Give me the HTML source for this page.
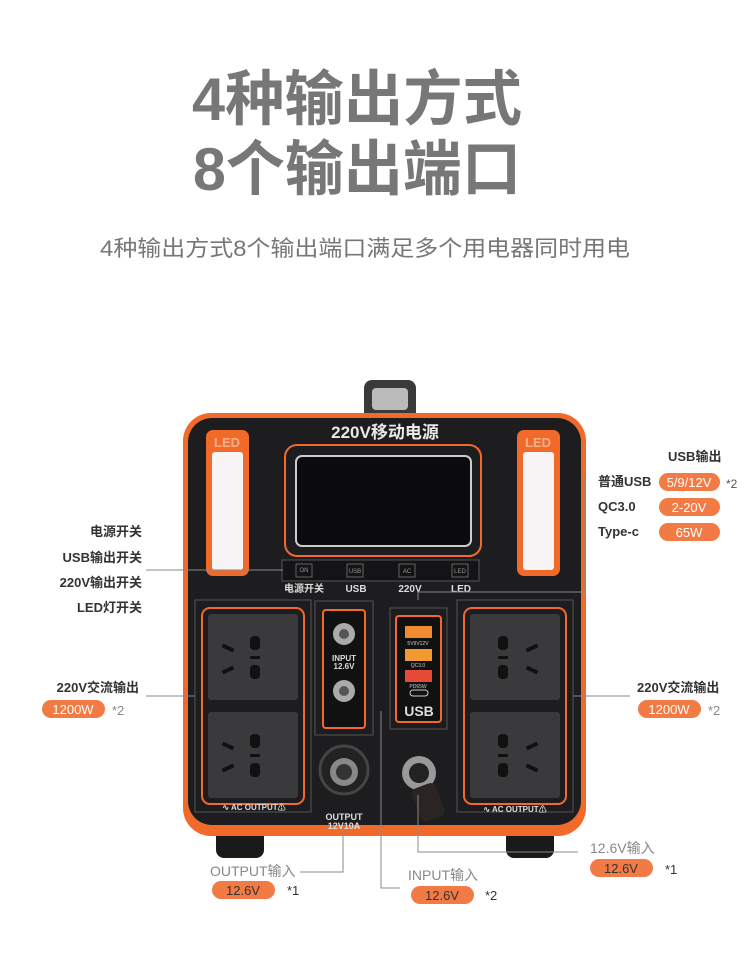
<!DOCTYPE html>
<html><head><meta charset="utf-8"><style>
html,body{margin:0;padding:0;background:#fff;}
svg{display:block;}
text{font-family:"Liberation Sans","Noto Sans CJK SC",sans-serif;}
</style></head><body>
<svg width="750" height="969" viewBox="0 0 750 969" xmlns="http://www.w3.org/2000/svg">
<rect width="750" height="969" fill="#fff"/>
<!-- titles -->
<text x="357" y="120" text-anchor="middle" font-size="60" font-weight="bold" fill="#777" textLength="330" lengthAdjust="spacingAndGlyphs">4种输出方式</text>
<text x="357" y="190" text-anchor="middle" font-size="60" font-weight="bold" fill="#777" textLength="328" lengthAdjust="spacingAndGlyphs">8个输出端口</text>
<text x="365" y="256" text-anchor="middle" font-size="22" fill="#777" textLength="530" lengthAdjust="spacingAndGlyphs">4种输出方式8个输出端口满足多个用电器同时用电</text>

<!-- handle -->
<rect x="364" y="380" width="52" height="40" rx="8" fill="#3a3a3a"/>
<rect x="372" y="388" width="36" height="22" rx="4" fill="#bbb"/>
<!-- feet -->
<rect x="216" y="826" width="48" height="32" rx="8" fill="#1a1a1a"/>
<rect x="506" y="826" width="48" height="32" rx="8" fill="#1a1a1a"/>
<!-- body -->
<rect x="183" y="413" width="403" height="423" rx="28" fill="#f26a2a"/>
<rect x="188" y="418" width="393" height="407" rx="24" fill="#1d1d20"/>
<text x="385" y="438" text-anchor="middle" font-size="17" font-weight="bold" fill="#e8e8e8">220V移动电源</text>
<!-- LED bars -->
<rect x="206" y="430" width="43" height="146" rx="7" fill="#f26a2a"/>
<text x="227" y="447" text-anchor="middle" font-size="13" font-weight="bold" fill="#f5b08a">LED</text>
<rect x="212" y="452" width="31" height="118" rx="3" fill="#f6f4f4"/>
<rect x="517" y="430" width="43" height="146" rx="7" fill="#f26a2a"/>
<text x="538" y="447" text-anchor="middle" font-size="13" font-weight="bold" fill="#f5b08a">LED</text>
<rect x="523" y="452" width="31" height="118" rx="3" fill="#f6f4f4"/>
<!-- display -->
<rect x="285" y="445" width="196" height="111" rx="12" fill="none" stroke="#f26a2a" stroke-width="2"/>
<rect x="296" y="456" width="175" height="90" rx="6" fill="#0b0b0d" stroke="#ccc" stroke-width="2"/>
<!-- switch bar -->
<rect x="282" y="560" width="197" height="21" fill="#141416" stroke="#555" stroke-width="1"/>
<g font-size="6" fill="#999" text-anchor="middle">
<rect x="296" y="564" width="16" height="13" fill="none" stroke="#777" stroke-width="0.8"/><text x="304" y="572">ON</text>
<rect x="347" y="564" width="16" height="13" fill="none" stroke="#777" stroke-width="0.8"/><text x="355" y="573">USB</text>
<rect x="399" y="564" width="16" height="13" fill="none" stroke="#777" stroke-width="0.8"/><text x="407" y="573">AC</text>
<rect x="452" y="564" width="16" height="13" fill="none" stroke="#777" stroke-width="0.8"/><text x="460" y="573">LED</text>
</g>
<g font-size="10" font-weight="bold" fill="#ddd" text-anchor="middle">
<text x="304" y="592">电源开关</text><text x="356" y="592">USB</text><text x="410" y="592">220V</text><text x="461" y="592">LED</text>
</g>
<!-- left outlets -->
<rect x="195" y="600" width="116" height="212" fill="none" stroke="#555" stroke-width="1"/>
<rect x="202" y="608" width="102" height="196" rx="8" fill="none" stroke="#f26a2a" stroke-width="2"/>
<rect x="208" y="614" width="90" height="86" rx="3" fill="#3a3a3c"/>
<rect x="208" y="712" width="90" height="86" rx="3" fill="#3a3a3c"/>
<text x="254" y="810" text-anchor="middle" font-size="8" font-weight="bold" fill="#ddd">∿ AC OUTPUT⚠</text>
<!-- right outlets -->
<rect x="457" y="600" width="116" height="212" fill="none" stroke="#555" stroke-width="1"/>
<rect x="464" y="608" width="102" height="196" rx="8" fill="none" stroke="#f26a2a" stroke-width="2"/>
<rect x="470" y="614" width="90" height="86" rx="3" fill="#3a3a3c"/>
<rect x="470" y="712" width="90" height="86" rx="3" fill="#3a3a3c"/>
<text x="515" y="812" text-anchor="middle" font-size="8" font-weight="bold" fill="#ddd">∿ AC OUTPUT⚠</text>
<!-- socket holes -->
<g fill="#111">
<rect x="250" y="636" width="10" height="14" rx="4"/><rect x="250" y="656" width="10" height="3"/><rect x="250" y="665" width="10" height="14" rx="4"/>
<rect x="222" y="646" width="12" height="4" transform="rotate(25 228 648)"/><rect x="222" y="668" width="12" height="4" transform="rotate(-25 228 670)"/>
<rect x="250" y="734" width="10" height="14" rx="4"/><rect x="250" y="754" width="10" height="3"/><rect x="250" y="763" width="10" height="14" rx="4"/>
<rect x="222" y="744" width="12" height="4" transform="rotate(25 228 746)"/><rect x="222" y="766" width="12" height="4" transform="rotate(-25 228 768)"/>
<rect x="498" y="636" width="10" height="14" rx="4"/><rect x="498" y="656" width="10" height="3"/><rect x="498" y="665" width="10" height="14" rx="4"/>
<rect x="526" y="646" width="12" height="4" transform="rotate(-25 532 648)"/><rect x="526" y="668" width="12" height="4" transform="rotate(25 532 670)"/>
<rect x="498" y="734" width="10" height="14" rx="4"/><rect x="498" y="754" width="10" height="3"/><rect x="498" y="763" width="10" height="14" rx="4"/>
<rect x="526" y="744" width="12" height="4" transform="rotate(-25 532 746)"/><rect x="526" y="766" width="12" height="4" transform="rotate(25 532 768)"/>
</g>
<!-- input panel -->
<rect x="315" y="601" width="58" height="134" fill="none" stroke="#555"/>
<rect x="323" y="610" width="42" height="118" rx="3" fill="#111" stroke="#f26a2a" stroke-width="2"/>
<circle cx="344" cy="634" r="11" fill="#aaa"/><circle cx="344" cy="634" r="5" fill="#555"/>
<circle cx="344" cy="691" r="11" fill="#aaa"/><circle cx="344" cy="691" r="5" fill="#555"/>
<text x="344" y="661" text-anchor="middle" font-size="8" font-weight="bold" fill="#ddd">INPUT</text>
<text x="344" y="669" text-anchor="middle" font-size="8" font-weight="bold" fill="#ddd">12.6V</text>
<!-- usb panel -->
<rect x="390" y="608" width="57" height="121" fill="none" stroke="#555"/>
<rect x="396" y="616" width="45" height="106" rx="3" fill="#111" stroke="#f26a2a" stroke-width="2"/>
<rect x="405" y="626" width="27" height="12" fill="#f28a30"/>
<rect x="405" y="649" width="27" height="12" fill="#f29a30"/>
<rect x="405" y="670" width="27" height="12" fill="#e84a3a"/>
<rect x="410" y="690" width="18" height="6" rx="3" fill="none" stroke="#ccc"/>
<g font-size="5" fill="#ccc" text-anchor="middle"><text x="418" y="645">5V9V12V</text><text x="418" y="667">QC3.0</text><text x="418" y="688">PD65W</text></g>
<text x="419" y="716" text-anchor="middle" font-size="14" font-weight="bold" fill="#ddd">USB</text>
<!-- cig socket -->
<circle cx="344" cy="770" r="24" fill="#222" stroke="#444" stroke-width="3"/>
<circle cx="344" cy="772" r="14" fill="#888"/><circle cx="344" cy="772" r="8" fill="#333"/>
<text x="344" y="820" text-anchor="middle" font-size="9" font-weight="bold" fill="#ddd">OUTPUT</text>
<text x="344" y="829" text-anchor="middle" font-size="9" font-weight="bold" fill="#ddd">12V10A</text>
<!-- aviation -->
<circle cx="419" cy="773" r="17" fill="#999"/><circle cx="419" cy="773" r="10" fill="#222"/>
<rect x="415" y="785" width="25" height="35" rx="6" fill="#2a2522" transform="rotate(-20 427 800)"/>

<!-- leader lines -->
<g stroke="#888" stroke-width="1" fill="none">
<polyline points="146,570 283,570"/>
<polyline points="146,696 195,696"/>
<polyline points="573,696 630,696"/>
<polyline points="584,478 584,592 418,592 418,600"/>
<polyline points="300,872 343,872 343,830"/>
<polyline points="381,711 381,888 400,888"/>
<polyline points="418,795 418,852 578,852"/>
</g>

<!-- left labels -->
<g font-size="13" font-weight="bold" fill="#333" text-anchor="end">
<text x="142" y="536">电源开关</text>
<text x="142" y="562">USB输出开关</text>
<text x="142" y="587">220V输出开关</text>
<text x="142" y="612">LED灯开关</text>
<text x="139" y="692">220V交流输出</text>
</g>
<rect x="42" y="700" width="63" height="18" rx="9" fill="#f27a45"/>
<text x="73" y="714" text-anchor="middle" font-size="13" fill="#fff">1200W</text>
<text x="112" y="715" font-size="13" fill="#888">*2</text>
<!-- right labels -->
<g font-size="13" font-weight="bold" fill="#333">
<text x="668" y="461">USB输出</text>
<text x="598" y="486">普通USB</text>
<text x="598" y="511">QC3.0</text>
<text x="598" y="536">Type-c</text>
<text x="637" y="692">220V交流输出</text>
</g>
<rect x="659" y="473" width="61" height="18" rx="9" fill="#f27a45"/><text x="689" y="487" text-anchor="middle" font-size="13" fill="#fff">5/9/12V</text>
<text x="726" y="488" font-size="12" fill="#555">*2</text>
<rect x="659" y="498" width="61" height="18" rx="9" fill="#f27a45"/><text x="689" y="512" text-anchor="middle" font-size="13" fill="#fff">2-20V</text>
<rect x="659" y="523" width="61" height="18" rx="9" fill="#f27a45"/><text x="689" y="537" text-anchor="middle" font-size="13" fill="#fff">65W</text>
<rect x="638" y="700" width="63" height="18" rx="9" fill="#f27a45"/>
<text x="669" y="714" text-anchor="middle" font-size="13" fill="#fff">1200W</text>
<text x="708" y="715" font-size="13" fill="#888">*2</text>

<!-- bottom labels -->
<text x="210" y="876" font-size="14" fill="#888">OUTPUT输入</text>
<rect x="212" y="881" width="63" height="18" rx="9" fill="#f27a45"/><text x="243" y="895" text-anchor="middle" font-size="13" fill="#333">12.6V</text>
<text x="287" y="895" font-size="13" fill="#333">*1</text>
<text x="408" y="880" font-size="14" fill="#888">INPUT输入</text>
<rect x="411" y="886" width="63" height="18" rx="9" fill="#f27a45"/><text x="442" y="900" text-anchor="middle" font-size="13" fill="#333">12.6V</text>
<text x="485" y="900" font-size="13" fill="#333">*2</text>
<text x="590" y="853" font-size="14" fill="#888">12.6V输入</text>
<rect x="590" y="859" width="63" height="18" rx="9" fill="#f27a45"/><text x="621" y="873" text-anchor="middle" font-size="13" fill="#333">12.6V</text>
<text x="665" y="874" font-size="13" fill="#333">*1</text>
</svg>
</body></html>
